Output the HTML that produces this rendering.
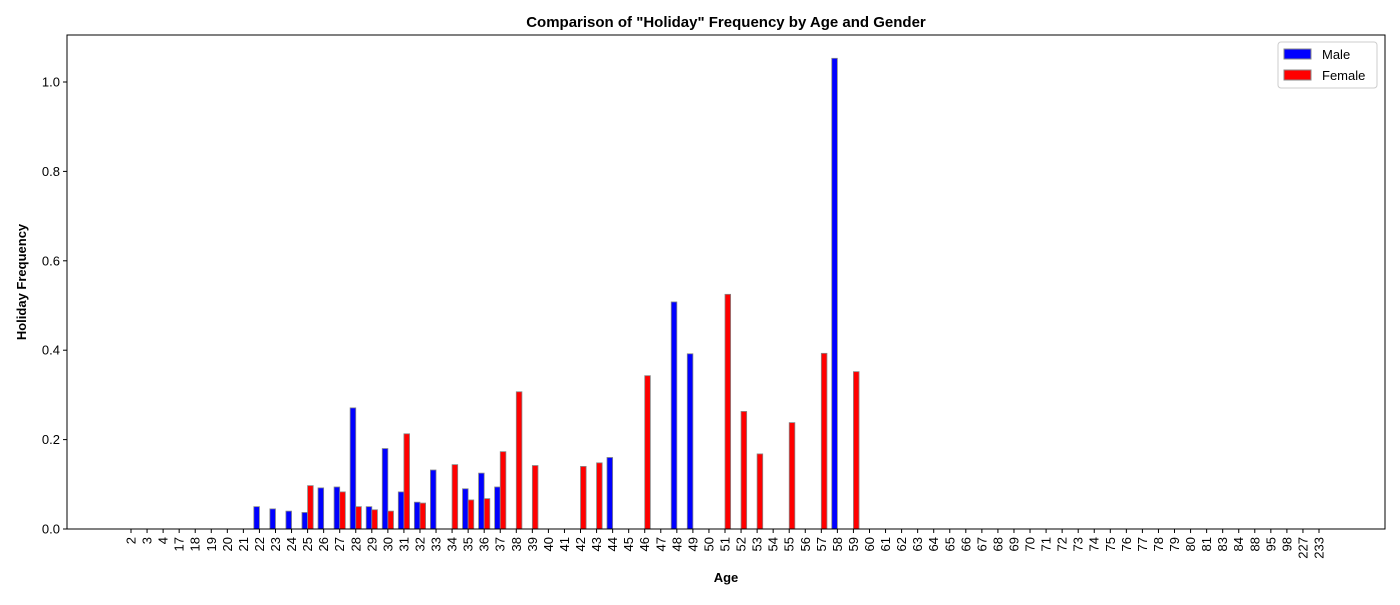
<!DOCTYPE html>
<html><head><meta charset="utf-8"><style>
body{margin:0;background:#fff;}
svg text{font-family:"Liberation Sans","DejaVu Sans",sans-serif;}
</style></head><body>
<svg id="c" width="1400" height="600"></svg>
<script>
const categories=[2,3,4,17,18,19,20,21,22,23,24,25,26,27,28,29,30,31,32,33,34,35,36,37,38,39,40,41,42,43,44,45,46,47,48,49,50,51,52,53,54,55,56,57,58,59,60,61,62,63,64,65,66,67,68,69,70,71,72,73,74,75,76,77,78,79,80,81,83,84,88,95,98,227,233];
const maleValues={22:0.05,23:0.045,24:0.04,25:0.037,26:0.092,27:0.094,28:0.271,29:0.05,30:0.18,31:0.083,32:0.06,33:0.132,35:0.09,36:0.125,37:0.094,44:0.16,48:0.508,49:0.392,58:1.053};
const femaleValues={25:0.097,27:0.083,28:0.05,29:0.043,30:0.04,31:0.213,32:0.058,34:0.144,35:0.065,36:0.068,37:0.173,38:0.307,39:0.142,42:0.14,43:0.148,46:0.343,51:0.525,52:0.263,53:0.168,55:0.238,57:0.393,59:0.352};
const yTicks=[0,0.2,0.4,0.6,0.8,1.0];
const yTickLabels=["0.0","0.2","0.4","0.6","0.8","1.0"];

const NS="http://www.w3.org/2000/svg";
const svg=document.getElementById('c');
const L=67,R=1385,T=35,B=529;
const x0=131,step=(1319-131)/74;
const xPos=i=>x0+i*step;
const yPos=v=>B-v*447;
function mk(tag,attrs,parent){const e=document.createElementNS(NS,tag);for(const k in attrs)e.setAttribute(k,attrs[k]);(parent||svg).appendChild(e);return e;}
const bw=step*0.35;
categories.forEach((c,i)=>{
  const m=maleValues[c]||0,f=femaleValues[c]||0;
  const r1=mk('rect',{x:xPos(i)-bw,y:yPos(m),width:bw,height:B-yPos(m),fill:'#0000ff',stroke:'#888',"stroke-width":0.8});
  
  
  const r2=mk('rect',{x:xPos(i),y:yPos(f),width:bw,height:B-yPos(f),fill:'#ff0000',stroke:'#888',"stroke-width":0.8});
  
  
  mk('line',{x1:xPos(i),x2:xPos(i),y1:B,y2:B+4,stroke:'#000'});
  const t=mk('text',{x:0,y:0,transform:`translate(${xPos(i)+4.5},${B+8}) rotate(-90)`,"text-anchor":"end","font-size":13});
  t.textContent=c;
  
  
});
yTicks.forEach((v,i)=>{
  mk('line',{x1:L-4,x2:L,y1:yPos(v),y2:yPos(v),stroke:'#000'});
  const t=mk('text',{x:L-7,y:yPos(v)+4.5,"text-anchor":"end","font-size":13});
  t.textContent=yTickLabels[i];
  
  
});
const fr=mk('rect',{x:L,y:T,width:R-L,height:B-T,fill:'none',stroke:'#000',"stroke-width":1});


</script>
<script>
(function(){
const NS="http://www.w3.org/2000/svg";const svg=document.getElementById('c');
function mk(tag,attrs){const e=document.createElementNS(NS,tag);for(const k in attrs)e.setAttribute(k,attrs[k]);svg.appendChild(e);return e;}
let t=mk('text',{x:726,y:27,"text-anchor":"middle","font-size":15,"font-weight":"bold"});t.textContent='Comparison of "Holiday" Frequency by Age and Gender';


t=mk('text',{x:726,y:582,"text-anchor":"middle","font-size":13,"font-weight":"bold"});t.textContent='Age';


t=mk('text',{x:0,y:0,transform:"translate(26,282) rotate(-90)","text-anchor":"middle","font-size":13,"font-weight":"bold"});t.textContent='Holiday Frequency';


const lg=mk('rect',{x:1278,y:42,width:99,height:46,fill:'#fff',stroke:'#ccc',rx:3});


mk('rect',{x:1284,y:49,width:27,height:10,fill:'#0000ff',stroke:'#888'});
mk('rect',{x:1284,y:70,width:27,height:10,fill:'#ff0000',stroke:'#888'});
t=mk('text',{x:1322,y:59,"font-size":13});t.textContent='Male';


t=mk('text',{x:1322,y:80,"font-size":13});t.textContent='Female';


})();
</script>
</body></html>
